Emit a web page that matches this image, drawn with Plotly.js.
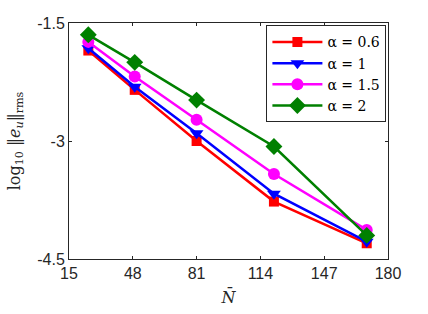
<!DOCTYPE html>
<html><head><meta charset="utf-8">
<script src="https://cdn.plot.ly/plotly-3.0.1.min.js"></script>
<style>html,body{margin:0;padding:0;background:#fff}#chart{width:428px;height:314px}</style>
</head><body><div id="chart"></div>
<script>
const N = [25, 49, 81, 121, 169];
const err06 = [-1.85, -2.35, -3.00, -3.77, -4.30];
const err1 = [-1.82, -2.31, -2.90, -3.67, -4.28];
const err15 = [-1.74, -2.18, -2.73, -3.42, -4.13];
const err2 = [-1.65, -2.00, -2.48, -3.07, -4.20];
const names = ['α = 0.6', 'α = 1', 'α = 1.5', 'α = 2'];
const xTicks = [15, 48, 81, 114, 147, 180];
const yTicks = [-4.5, -3, -1.5];
const yTickText = ['-4.5', '-3', '-1.5'];

const series = [err06, err1, err15, err2];
const colors = ['#ff0000', '#0000ff', '#ff00ff', '#008000'];
const symbols = ['square', 'triangle-down', 'circle', 'diamond'];
const sizes = [10, 12, 12, 13];
const traces = series.map((s, i) => ({
  x: N, y: s, name: names[i], type: 'scatter', mode: 'lines+markers',
  line: {color: colors[i], width: 2.5},
  marker: {color: colors[i], symbol: symbols[i], size: sizes[i]}
}));

const layout = {
  width: 428, height: 314,
  margin: {l: 69, r: 40, t: 23, b: 55},
  paper_bgcolor: '#fff', plot_bgcolor: '#fff',
  showlegend: true,
  font: {family: 'Liberation Sans, Arial, sans-serif', size: 16, color: '#262626'},
  xaxis: {
    range: [15, 180], tickvals: xTicks, ticktext: xTicks.map(String),
    showgrid: false, zeroline: false, showline: true, linecolor: '#262626', linewidth: 1,
    mirror: 'ticks', ticks: 'inside', ticklen: 3, tickcolor: '#262626',
    tickfont: {size: 16},
    title: {text: '<i>N̄</i>', font: {family: 'DejaVu Serif, serif', size: 16}, standoff: 10}
  },
  yaxis: {
    range: [-4.5, -1.5], tickvals: yTicks, ticktext: yTickText,
    showgrid: false, zeroline: false, showline: true, linecolor: '#262626', linewidth: 1,
    mirror: 'ticks', ticks: 'inside', ticklen: 3, tickcolor: '#262626',
    tickfont: {size: 16},
    title: {text: 'log<sub>10</sub> ‖<i>e</i><sub><i>u</i></sub>‖<sub>rms</sub>', font: {family: 'DejaVu Serif, serif', size: 16}, standoff: 12}
  },
  legend: {
    x: 0.995, xanchor: 'right', y: 0.99, yanchor: 'top',
    bgcolor: '#fff', bordercolor: '#262626', borderwidth: 1,
    font: {family: 'DejaVu Serif, serif', size: 14, color: '#000'},
    tracegroupgap: 0, itemwidth: 50
  }
};
Plotly.newPlot('chart', traces, layout, {displayModeBar: false, staticPlot: true});
</script></body></html>
